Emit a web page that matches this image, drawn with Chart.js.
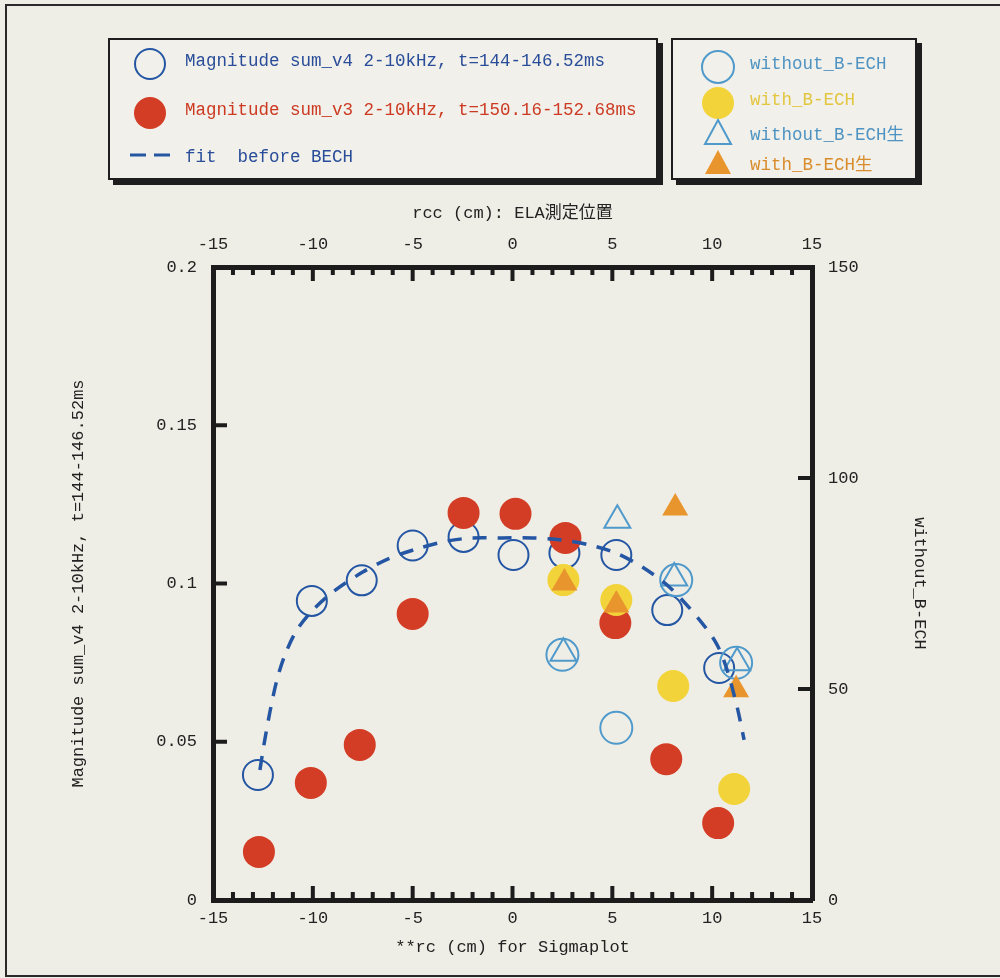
<!DOCTYPE html>
<html>
<head>
<meta charset="utf-8">
<script src="https://cdn.jsdelivr.net/npm/chart.js@4.4.1/dist/chart.umd.min.js"></script>
<style>
  body { margin: 0; background: #efeee6; }
  #wrap { position: relative; width: 1000px; height: 978px; overflow: hidden; }
  #frame { position: absolute; left: 5px; top: 4px; width: 1010px; height: 969px; border: 2px solid #2a2a2a; }
  canvas { position: absolute; left: 0; top: 0; }
  .box { position: absolute; border: 2px solid #1e1e1e; background: #f1f0ea; box-shadow: 5px 5px 0 #1e1e1e; }
  .item { position: absolute; height: 26px; line-height: 26px; white-space: pre;
          font: 17.5px 'Liberation Mono', 'DejaVu Sans Mono', 'Noto Sans CJK JP', monospace; }
  .mk { position: absolute; }
</style>
</head>
<body>
<div id="wrap">
  <div id="frame"></div>
  <canvas id="magChart" width="1000" height="978"></canvas>

  <div class="box" style="left:108px; top:38px; width:546px; height:138px;">
    <svg class="mk" style="left:22px; top:6px" width="36" height="36"><circle cx="18" cy="18" r="15" fill="none" stroke="#2456a4" stroke-width="2"/></svg>
    <div class="item" style="left:75px; top:11px; color:#2a4d9a">Magnitude sum_v4 2-10kHz, t=144-146.52ms</div>
    <svg class="mk" style="left:22px; top:55px" width="36" height="36"><circle cx="18" cy="18" r="16" fill="#d43d25"/></svg>
    <div class="item" style="left:75px; top:60px; color:#cc3a22">Magnitude sum_v3 2-10kHz, t=150.16-152.68ms</div>
    <svg class="mk" style="left:18px; top:110px" width="52" height="10"><line x1="2" y1="5" x2="50" y2="5" stroke="#2456a4" stroke-width="3" stroke-dasharray="16,8"/></svg>
    <div class="item" style="left:75px; top:107px; color:#2a4d9a">fit  before BECH</div>
  </div>

  <div class="box" style="left:671px; top:38px; width:242px; height:138px;">
    <svg class="mk" style="left:27px; top:9px" width="36" height="36"><circle cx="18" cy="18" r="16" fill="none" stroke="#4f9acb" stroke-width="2"/></svg>
    <div class="item" style="left:77px; top:14px; color:#4f93c2">without_B-ECH</div>
    <svg class="mk" style="left:27px; top:45px" width="36" height="36"><circle cx="18" cy="18" r="16" fill="#f2d43a"/></svg>
    <div class="item" style="left:77px; top:50px; color:#e2c640">with_B-ECH</div>
    <svg class="mk" style="left:27px; top:77px" width="36" height="32"><polygon points="18,3 31,27 5,27" fill="none" stroke="#4f9acb" stroke-width="2"/></svg>
    <div class="item" style="left:77px; top:80px; color:#4f93c2">without_B-ECH生</div>
    <svg class="mk" style="left:27px; top:107px" width="36" height="32"><polygon points="18,3 31,27 5,27" fill="#e8952e"/></svg>
    <div class="item" style="left:77px; top:110px; color:#d98c2c">with_B-ECH生</div>
  </div>
</div>

<script>
// ---------- data ----------
// Magnitude sum_v4 (before BECH), left axis
var v4X = [-12.75, -10.05, -7.55, -5.0, -2.45, 0.05, 2.6, 5.2, 7.75, 10.35];
var v4Y = [0.0395, 0.0945, 0.101, 0.112, 0.1147, 0.109, 0.1096, 0.109, 0.0916, 0.0733];

// Magnitude sum_v3, left axis
var v3X = [-12.7, -10.1, -7.65, -5.0, -2.45, 0.15, 2.65, 5.15, 7.7, 10.3];
var v3Y = [0.0152, 0.037, 0.049, 0.0904, 0.1223, 0.122, 0.1144, 0.0875, 0.0445, 0.0243];

// fit before BECH
var fitX = [-12.65, -12.45, -12.15, -11.8, -11.4, -10.8, -10.0, -9.0, -7.5, -6.15, -4.65, -3.3, -2.0, -0.5, 1.0, 2.5, 3.85, 5.2, 6.5, 7.85, 9.25, 10.2, 10.7, 11.25, 11.6];
var fitY = [0.0411, 0.049, 0.0594, 0.0695, 0.0774, 0.0853, 0.0916, 0.0973, 0.1036, 0.108, 0.1112, 0.1134, 0.1144, 0.1144, 0.1144, 0.1137, 0.1122, 0.1096, 0.1052, 0.0989, 0.0894, 0.0812, 0.0736, 0.061, 0.0506];

// ELA points, right axis
var woX = [2.5, 5.2, 8.2, 11.2];
var woY = [58.1, 40.8, 75.8, 56.2];
var wiX = [2.55, 5.2, 8.05, 11.1];
var wiY = [75.8, 71.1, 50.7, 26.3];
var woRawX = [2.55, 5.25, 8.1, 11.25];
var woRawY = [58.5, 90.0, 76.3, 56.2];
var wiRawX = [2.6, 5.2, 8.15, 11.2];
var wiRawY = [75.1, 69.9, 92.9, 49.8];

// axis ranges
var xRange = [-15, 15];
var yLeftRange = [0, 0.2];
var yRightRange = [0, 150];

function pts(xs, ys) {
	return xs.map(function(x, i){ return {x: x, y: ys[i]}; });
}

var FONT = "'Liberation Mono', 'DejaVu Sans Mono', 'Noto Sans CJK JP', monospace";
var INK = '#1c1c1c';

// inward tick marks on all four sides
var innerTicks = {
	id: 'innerTicks',
	afterDraw: function(chart) {
		var ctx = chart.ctx, a = chart.chartArea;
		var sx = chart.scales.x, sy = chart.scales.y, sy2 = chart.scales.y2;
		ctx.save();
		ctx.fillStyle = INK;
		for (var v = xRange[0] + 1; v < xRange[1]; v++) {
			var px = sx.getPixelForValue(v);
			var len = (v % 5 === 0) ? 14 : 8;
			ctx.fillRect(px - 2, a.bottom - len, 4, len);
			ctx.fillRect(px - 2, a.top, 4, len);
		}
		[0.05, 0.1, 0.15].forEach(function(v){
			ctx.fillRect(a.left, sy.getPixelForValue(v) - 2, 14, 4);
		});
		[50, 100].forEach(function(v){
			ctx.fillRect(a.right - 14, sy2.getPixelForValue(v) - 2, 14, 4);
		});
		ctx.restore();
	}
};

function axis(pos, range, step, title, titlePad, size, pad) {
	return {
		type: 'linear',
		position: pos,
		min: range[0],
		max: range[1],
		grid: { display: false, drawTicks: false },
		border: { display: true, color: INK, width: 5 },
		ticks: {
			stepSize: step,
			padding: pad,
			color: '#222',
			font: { family: FONT, size: 17 },
			callback: function(v){ return String(Number(v.toFixed(2))); }
		},
		title: {
			display: true,
			text: title,
			color: '#222',
			font: { family: FONT, size: 17 },
			padding: titlePad
		},
		afterFit: function(s) {
			if (pos === 'top' || pos === 'bottom') s.height = size; else s.width = size;
		}
	};
}

var ctx = document.getElementById('magChart').getContext('2d');
var myChart = new Chart(ctx, {
	type: 'scatter',
	data: {
		datasets: [
			{
				label: 'fit  before BECH',
				data: pts(fitX, fitY),
				showLine: true,
				borderColor: '#2456a4',
				borderWidth: 3.5,
				borderDash: [14, 11],
				pointRadius: 0,
				tension: 0.3,
				yAxisID: 'y'
			},
			{
				label: 'with_B-ECH生',
				data: pts(wiRawX, wiRawY),
				pointStyle: 'triangle',
				pointRadius: 15,
				backgroundColor: '#e8952e',
				borderColor: '#e8952e',
				borderWidth: 0,
				yAxisID: 'y2'
			},
			{
				label: 'without_B-ECH生',
				data: pts(woRawX, woRawY),
				pointStyle: 'triangle',
				pointRadius: 15,
				backgroundColor: 'rgba(0,0,0,0)',
				borderColor: '#4f9acb',
				borderWidth: 2,
				yAxisID: 'y2'
			},
			{
				label: 'with_B-ECH',
				data: pts(wiX, wiY),
				pointRadius: 16,
				backgroundColor: '#f2d43a',
				borderColor: '#f2d43a',
				borderWidth: 0,
				yAxisID: 'y2'
			},
			{
				label: 'without_B-ECH',
				data: pts(woX, woY),
				pointRadius: 16,
				backgroundColor: 'rgba(0,0,0,0)',
				borderColor: '#4f9acb',
				borderWidth: 2,
				yAxisID: 'y2'
			},
			{
				label: 'Magnitude sum_v3 2-10kHz, t=150.16-152.68ms',
				data: pts(v3X, v3Y),
				pointRadius: 16,
				backgroundColor: '#d43d25',
				borderColor: '#d43d25',
				borderWidth: 0,
				yAxisID: 'y'
			},
			{
				label: 'Magnitude sum_v4 2-10kHz, t=144-146.52ms',
				data: pts(v4X, v4Y),
				pointRadius: 15,
				backgroundColor: 'rgba(0,0,0,0)',
				borderColor: '#2456a4',
				borderWidth: 2,
				yAxisID: 'y'
			}
		]
	},
	options: {
		responsive: false,
		animation: false,
		devicePixelRatio: 1,
		layout: { padding: 0 },
		plugins: {
			legend: { display: false },
			tooltip: { enabled: false }
		},
		scales: {
			x: axis('bottom', xRange, 5, '**rc (cm) for Sigmaplot', { top: 0, bottom: 20 }, 78, 8),
			x2: axis('top', xRange, 5, 'rcc (cm): ELA測定位置', { top: 203, bottom: 0 }, 267, 12),
			y: axis('left', yLeftRange, 0.05, 'Magnitude sum_v4 2-10kHz, t=144-146.52ms', { top: 68, bottom: 0 }, 213, 16),
			y2: axis('right', yRightRange, 50, 'without_B-ECH', { top: 70, bottom: 0 }, 188, 16)
		}
	},
	plugins: [innerTicks]
});
</script>
</body>
</html>
